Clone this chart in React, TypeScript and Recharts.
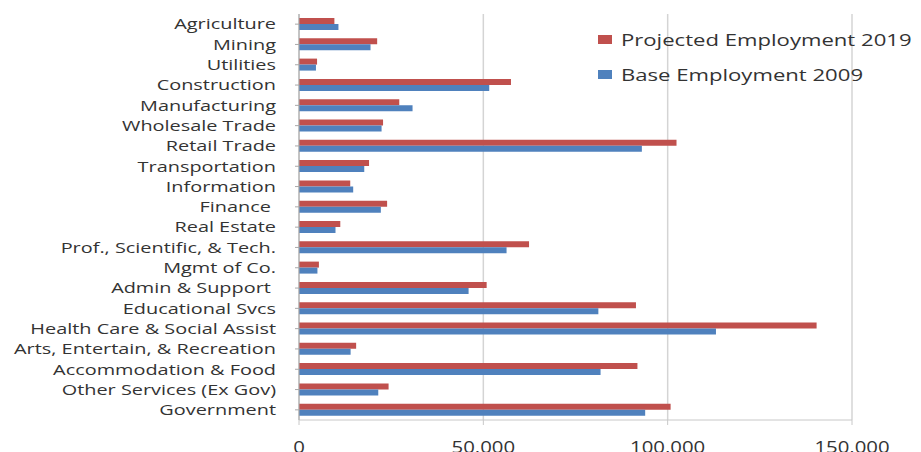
import React from 'react';
import { BarChart, Bar, XAxis, YAxis, CartesianGrid, Legend } from 'recharts';

const categories = [
  'Agriculture', 'Mining', 'Utilities', 'Construction', 'Manufacturing', 'Wholesale Trade',
  'Retail Trade', 'Transportation', 'Information', 'Finance ', 'Real Estate',
  'Prof., Scientific, & Tech.', 'Mgmt of Co.', 'Admin & Support ', 'Educational Svcs',
  'Health Care & Social Assist', 'Arts, Entertain, & Recreation', 'Accommodation & Food',
  'Other Services (Ex Gov)', 'Government',
];
const projected2019 = [
  9600, 21200, 4900, 57500, 27200, 22800, 102400, 19000, 13900, 23900, 11200,
  62400, 5400, 50900, 91400, 140400, 15500, 91800, 24300, 100800,
];
const base2009 = [
  10700, 19400, 4600, 51600, 30800, 22400, 93000, 17700, 14700, 22200, 9900,
  56300, 5000, 46000, 81200, 113100, 14000, 81800, 21500, 93900,
];
const xTicks = [0, 50000, 100000, 150000];
const seriesNames = ['Projected Employment 2019', 'Base Employment 2009'];
const seriesColors = ['#C0504D', '#4F81BD'];

const data = categories.map((c, i) => ({ name: c, p: projected2019[i], b: base2009[i] }));

const FONT = '"Open Sans", sans-serif';
const SX_Y = 1.42;
const SX_X = 1.2;
const SX_L = 1.3;

const YTick = (props: any) => {
  const { x, y, payload } = props;
  return (
    <text
      transform={`translate(${x},${y}) scale(${SX_Y},1)`}
      x={0}
      y={0}
      textAnchor="end"
      dominantBaseline="central"
      fontFamily={FONT}
      fontSize={14}
      fill="#333"
      style={{ whiteSpace: 'pre' }}
    >
      {payload.value}
    </text>
  );
};

const XTick = (props: any) => {
  const { x, y, payload } = props;
  return (
    <text
      transform={`translate(${x},${y + 26}) scale(${SX_X},1)`}
      x={0}
      y={0}
      textAnchor="middle"
      fontFamily={FONT}
      fontSize={17}
      fill="#333"
    >
      {payload.value.toLocaleString('en-US')}
    </text>
  );
};

const renderLegend = (props: any) => {
  const payload = [...(props.payload || [])].sort(
    (a: any, b: any) => seriesNames.indexOf(a.value) - seriesNames.indexOf(b.value)
  );
  return (
    <div style={{ fontFamily: FONT }}>
      {payload.map((e: any) => (
        <div key={e.value} style={{ display: 'flex', alignItems: 'center', height: 35 }}>
          <div style={{ width: 14, height: 9, background: e.color, marginRight: 9 }} />
          <span
            style={{
              fontSize: 17,
              color: '#333',
              whiteSpace: 'nowrap',
              display: 'inline-block',
              transform: `scaleX(${SX_L})`,
              transformOrigin: 'left center',
            }}
          >
            {e.value}
          </span>
        </div>
      ))}
    </div>
  );
};

export default function App() {
  return (
    <div style={{ position: 'absolute', left: 0, top: 0, width: 921, height: 452, background: '#fff' }}>
      <BarChart
        width={921}
        height={452}
        data={data}
        layout="vertical"
        margin={{ top: 14, right: 69, bottom: 0, left: 0 }}
        barGap={0}
        barSize={6}
      >
        <CartesianGrid horizontal={false} stroke="#d4d4d4" strokeWidth={1.5} />
        <XAxis
          type="number"
          domain={[0, 150000]}
          ticks={xTicks}
          interval={0}
          height={32}
          tickSize={5}
          tick={<XTick />}
          stroke="#c8c8c8"
        />
        <YAxis
          type="category"
          dataKey="name"
          width={299}
          interval={0}
          tickSize={4}
          tickMargin={19}
          tick={<YTick />}
          stroke="#a8a8a8"
        />
        <Legend
          layout="vertical"
          align="center"
          verticalAlign="middle"
          wrapperStyle={{ top: 22, left: 598, width: 330 }}
          content={renderLegend}
        />
        <Bar dataKey="p" name={seriesNames[0]} fill={seriesColors[0]} isAnimationActive={false} />
        <Bar dataKey="b" name={seriesNames[1]} fill={seriesColors[1]} isAnimationActive={false} />
      </BarChart>
    </div>
  );
}
